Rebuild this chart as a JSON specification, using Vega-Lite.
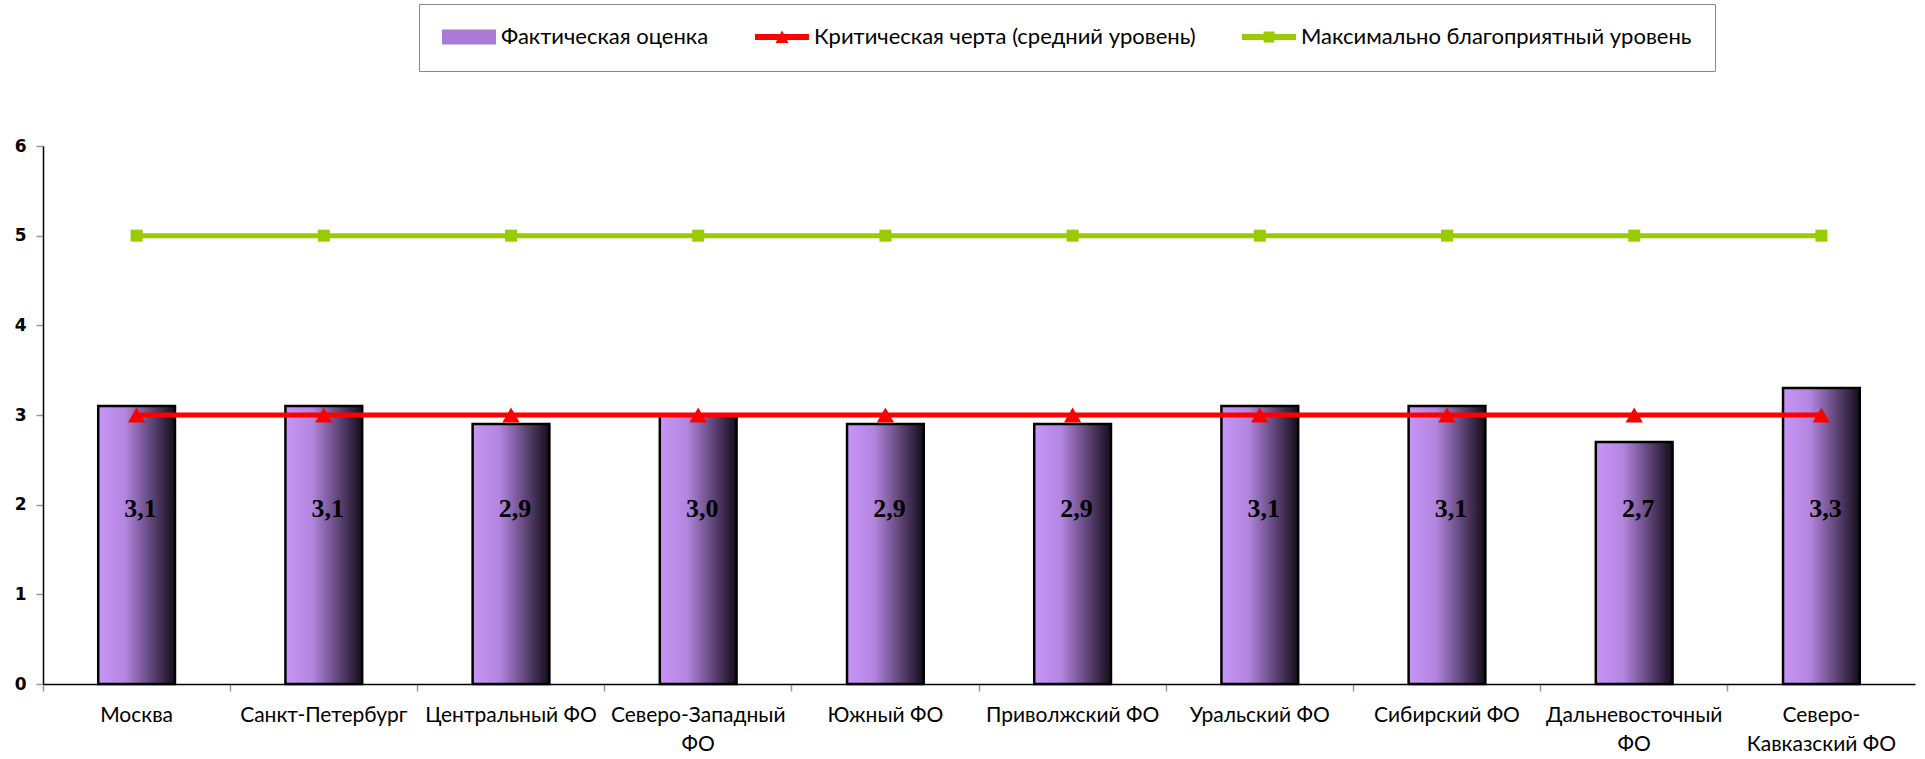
{
  "$schema": "https://vega.github.io/schema/vega-lite/v6.json",
  "width": 1872,
  "height": 538,
  "autosize": {"type": "none"},
  "padding": {"left": 43, "top": 146, "right": 10, "bottom": 75},
  "background": "white",
  "config": {
    "view": {"stroke": null},
    "locale": {"number": {"decimal": ",", "thousands": " ", "grouping": [3], "currency": ["", " ₽"]}}
  },
  "data": {
    "values": [
      {"region": "Москва", "series": "Фактическая оценка", "value": 3.1},
      {"region": "Санкт-Петербург", "series": "Фактическая оценка", "value": 3.1},
      {"region": "Центральный ФО", "series": "Фактическая оценка", "value": 2.9},
      {"region": "Северо-Западный ФО", "series": "Фактическая оценка", "value": 3.0},
      {"region": "Южный ФО", "series": "Фактическая оценка", "value": 2.9},
      {"region": "Приволжский ФО", "series": "Фактическая оценка", "value": 2.9},
      {"region": "Уральский ФО", "series": "Фактическая оценка", "value": 3.1},
      {"region": "Сибирский ФО", "series": "Фактическая оценка", "value": 3.1},
      {"region": "Дальневосточный ФО", "series": "Фактическая оценка", "value": 2.7},
      {"region": "Северо-Кавказский ФО", "series": "Фактическая оценка", "value": 3.3},
      {"region": "Москва", "series": "Критическая черта (средний уровень)", "value": 3},
      {"region": "Санкт-Петербург", "series": "Критическая черта (средний уровень)", "value": 3},
      {"region": "Центральный ФО", "series": "Критическая черта (средний уровень)", "value": 3},
      {"region": "Северо-Западный ФО", "series": "Критическая черта (средний уровень)", "value": 3},
      {"region": "Южный ФО", "series": "Критическая черта (средний уровень)", "value": 3},
      {"region": "Приволжский ФО", "series": "Критическая черта (средний уровень)", "value": 3},
      {"region": "Уральский ФО", "series": "Критическая черта (средний уровень)", "value": 3},
      {"region": "Сибирский ФО", "series": "Критическая черта (средний уровень)", "value": 3},
      {"region": "Дальневосточный ФО", "series": "Критическая черта (средний уровень)", "value": 3},
      {"region": "Северо-Кавказский ФО", "series": "Критическая черта (средний уровень)", "value": 3},
      {"region": "Москва", "series": "Максимально благоприятный уровень", "value": 5},
      {"region": "Санкт-Петербург", "series": "Максимально благоприятный уровень", "value": 5},
      {"region": "Центральный ФО", "series": "Максимально благоприятный уровень", "value": 5},
      {"region": "Северо-Западный ФО", "series": "Максимально благоприятный уровень", "value": 5},
      {"region": "Южный ФО", "series": "Максимально благоприятный уровень", "value": 5},
      {"region": "Приволжский ФО", "series": "Максимально благоприятный уровень", "value": 5},
      {"region": "Уральский ФО", "series": "Максимально благоприятный уровень", "value": 5},
      {"region": "Сибирский ФО", "series": "Максимально благоприятный уровень", "value": 5},
      {"region": "Дальневосточный ФО", "series": "Максимально благоприятный уровень", "value": 5},
      {"region": "Северо-Кавказский ФО", "series": "Максимально благоприятный уровень", "value": 5}
    ]
  },
  "layer": [
    {
      "transform": [{"filter": "datum.series === 'Фактическая оценка'"}],
      "mark": {
        "type": "bar",
        "width": {"band": 0.41},
        "stroke": "black",
        "strokeWidth": 2.5,
        "fill": {
          "gradient": "linear", "x1": 0, "y1": 0, "x2": 1, "y2": 0,
          "stops": [
            {"offset": 0, "color": "#c795f7"},
            {"offset": 0.35, "color": "#b386e0"},
            {"offset": 0.65, "color": "#6a4d85"},
            {"offset": 1, "color": "#140d1a"}
          ]
        }
      },
      "encoding": {
        "x": {
          "field": "region", "type": "nominal", "sort": null,
          "scale": {"paddingInner": 0, "paddingOuter": 0},
          "axis": {
            "orient": "bottom", "title": null,
            "domain": true, "domainColor": "black", "domainWidth": 1.5,
            "ticks": true, "bandPosition": 0, "tickSize": 7, "tickColor": "#999999", "tickWidth": 1.5,
            "labelFont": "Lato", "labelFontSize": 21, "labelColor": "black", "labelPadding": 13,
            "labelAngle": 0, "labelOverlap": false, "labelLimit": 400, "labelBound": false, "labelFlush": false,
            "labelLineHeight": 29, "labelBaseline": "top", "labelAlign": "center",
            "labelExpr": "datum.value == 'Северо-Западный ФО' ? ['Северо-Западный', 'ФО'] : datum.value == 'Дальневосточный ФО' ? ['Дальневосточный', 'ФО'] : datum.value == 'Северо-Кавказский ФО' ? ['Северо-', 'Кавказский ФО'] : datum.value"
          }
        },
        "y": {
          "field": "value", "type": "quantitative",
          "scale": {"domain": [0, 6], "nice": false},
          "axis": {
            "title": null, "values": [0, 1, 2, 3, 4, 5, 6], "format": "d", "grid": false,
            "domainColor": "black", "domainWidth": 1.5,
            "tickColor": "#999999", "tickSize": 7, "tickWidth": 1.5,
            "labelFont": "DejaVu Sans", "labelFontWeight": "bold", "labelFontSize": 17,
            "labelColor": "black", "labelPadding": 10
          }
        }
      }
    },
    {
      "transform": [{"filter": "datum.series === 'Фактическая оценка'"}],
      "mark": {"type": "text", "font": "Liberation Serif", "fontWeight": "bold", "fontSize": 26, "dx": 4, "color": "black"},
      "encoding": {
        "x": {"field": "region", "type": "nominal", "sort": null},
        "y": {"datum": 1.95},
        "text": {"field": "value", "type": "quantitative", "format": ".1f"}
      }
    },
    {
      "transform": [{"filter": "datum.series === 'Критическая черта (средний уровень)'"}],
      "mark": {"type": "line", "strokeWidth": 5, "color": "#ff0000"},
      "encoding": {
        "x": {"field": "region", "type": "nominal", "sort": null},
        "y": {"field": "value", "type": "quantitative"}
      }
    },
    {
      "transform": [{"filter": "datum.series === 'Максимально благоприятный уровень'"}],
      "mark": {"type": "line", "strokeWidth": 5, "color": "#99cc00"},
      "encoding": {
        "x": {"field": "region", "type": "nominal", "sort": null},
        "y": {"field": "value", "type": "quantitative"}
      }
    },
    {
      "transform": [{"filter": "datum.series === 'Критическая черта (средний уровень)'"}],
      "mark": {"type": "point", "shape": "triangle-up", "filled": true, "size": 300, "opacity": 1, "color": "#ff0000"},
      "encoding": {
        "x": {"field": "region", "type": "nominal", "sort": null},
        "y": {"field": "value", "type": "quantitative"}
      }
    },
    {
      "transform": [{"filter": "datum.series === 'Максимально благоприятный уровень'"}],
      "mark": {"type": "point", "shape": "square", "filled": true, "size": 144, "opacity": 1, "color": "#99cc00"},
      "encoding": {
        "x": {"field": "region", "type": "nominal", "sort": null},
        "y": {"field": "value", "type": "quantitative"}
      }
    },
    {
      "transform": [{"filter": "false"}],
      "mark": {"type": "point", "filled": true, "opacity": 1},
      "encoding": {
        "x": {"field": "region", "type": "nominal", "sort": null},
        "y": {"field": "value", "type": "quantitative"},
        "color": {
          "field": "series", "type": "nominal",
          "scale": {
            "domain": ["Фактическая оценка", "Критическая черта (средний уровень)", "Максимально благоприятный уровень"],
            "range": ["#a97ad6", "#ff0000", "#99cc00"]
          },
          "legend": {
            "orient": "none", "legendX": 376, "legendY": -142,
            "direction": "horizontal", "title": null,
            "strokeColor": "#888888", "fillColor": "white", "padding": 23, "clipHeight": 20,
            "labelFont": "Lato", "labelFontSize": 22, "labelColor": "black", "labelLimit": 500,
            "labelOffset": 5, "columnPadding": 46, "symbolSize": 2916, "symbolStrokeWidth": 0, "symbolOpacity": 1
          }
        },
        "shape": {
          "field": "series", "type": "nominal",
          "scale": {
            "domain": ["Фактическая оценка", "Критическая черта (средний уровень)", "Максимально благоприятный уровень"],
            "range": [
              "M-1,-0.28H1V0.28H-1Z",
              "M-1,-0.11H1V0.11H-1Z M-0.24,0.22L0,-0.24L0.24,0.22Z",
              "M-1,-0.11H1V0.11H-1Z M-0.2,-0.2H0.2V0.2H-0.2Z"
            ]
          },
          "legend": {
            "orient": "none", "legendX": 376, "legendY": -142,
            "direction": "horizontal", "title": null,
            "strokeColor": "#888888", "fillColor": "white", "padding": 23, "clipHeight": 20,
            "labelFont": "Lato", "labelFontSize": 22, "labelColor": "black", "labelLimit": 500,
            "labelOffset": 5, "columnPadding": 46, "symbolSize": 2916, "symbolStrokeWidth": 0, "symbolOpacity": 1
          }
        }
      }
    }
  ]
}
